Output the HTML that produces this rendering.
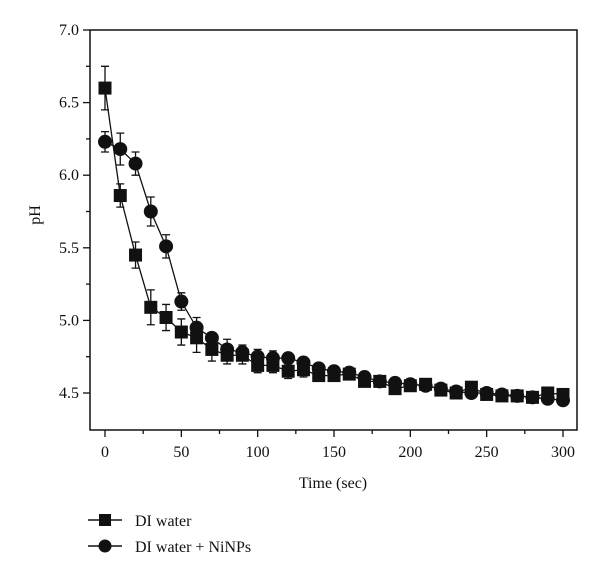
<!DOCTYPE html>
<html><head><meta charset="utf-8"><style>
html,body{margin:0;padding:0;background:#fff;}
svg text{font-family:"Liberation Serif",serif;fill:#111;}
</style></head><body>
<svg id="chart" width="600" height="574" xmlns="http://www.w3.org/2000/svg">
<rect x="90" y="30" width="487" height="400" fill="none" stroke="#111" stroke-width="1.5"/>
<g id="axes"></g>
<g id="series"></g>
<text x="333" y="488" font-size="16" text-anchor="middle">Time (sec)</text>
<text x="40" y="215" font-size="16" text-anchor="middle" transform="rotate(-90 40 215)">pH</text>
<g>
 <g>
  <line x1="88" y1="520" x2="122" y2="520" stroke="#111" stroke-width="1.5"/>
  <rect x="99" y="514" width="12" height="12" fill="#111"/>
  <text x="135" y="526" font-size="16">DI water</text>
 </g>
 <g>
  <line x1="88" y1="546" x2="122" y2="546" stroke="#111" stroke-width="1.5"/>
  <circle cx="105" cy="546" r="6.5" fill="#111"/>
  <text x="135" y="552" font-size="16">DI water + NiNPs</text>
 </g>
</g>
</svg>
<script>
const times=[0,10,20,30,40,50,60,70,80,90,100,110,120,130,140,150,160,170,180,190,200,210,220,230,240,250,260,270,280,290,300];
const diWater=[6.6,5.86,5.45,5.09,5.02,4.92,4.88,4.8,4.76,4.76,4.69,4.69,4.65,4.66,4.62,4.62,4.63,4.58,4.58,4.53,4.55,4.56,4.52,4.5,4.54,4.49,4.48,4.48,4.47,4.5,4.49];
const diWaterErr=[0.15,0.08,0.09,0.12,0.09,0.09,0.1,0.08,0.06,0.06,0.05,0.05,0.05,0.05,0,0,0,0,0,0,0,0,0,0,0,0,0,0,0,0,0];
const niNPs=[6.23,6.18,6.08,5.75,5.51,5.13,4.95,4.88,4.8,4.78,4.75,4.74,4.74,4.71,4.67,4.65,4.64,4.61,4.58,4.57,4.56,4.55,4.53,4.51,4.5,4.5,4.49,4.48,4.47,4.46,4.45];
const niNPsErr=[0.07,0.11,0.08,0.1,0.08,0.06,0.07,0,0.07,0.05,0.05,0.05,0,0,0,0,0,0,0,0,0,0,0,0,0,0,0,0,0,0,0];
const xTicks=[0,50,100,150,200,250,300];
const yTicks=[4.5,5.0,5.5,6.0,6.5,7.0];
const NS="http://www.w3.org/2000/svg";
const X=v=>105+v*(563-105)/300;
const Y=v=>30+(7.0-v)*145.2;
function mk(tag,attrs,parent){const e=document.createElementNS(NS,tag);for(const k in attrs)e.setAttribute(k,attrs[k]);parent.appendChild(e);return e;}
const axes=document.getElementById('axes');
for(let v=0;v<=300;v+=25){
 const t=mk('line',{x1:X(v),x2:X(v),y1:430,y2:v%50===0?437:434,stroke:'#111','stroke-width':1.3},axes);
 
 
}
xTicks.forEach(v=>{
 const t=mk('text',{x:X(v),y:457,'font-size':16,'text-anchor':'middle'},axes);t.textContent=String(v);
 
 
});
for(let v=4.5;v<=7.001;v+=0.25){
 const major=Math.abs(v*2-Math.round(v*2))<1e-6;
 const t=mk('line',{x1:major?83:86,x2:90,y1:Y(v),y2:Y(v),stroke:'#111','stroke-width':1.3},axes);
 
 
}
yTicks.forEach(v=>{
 const t=mk('text',{x:79,y:Y(v)+5,'font-size':16,'text-anchor':'end'},axes);t.textContent=v.toFixed(1);
 
 
});
const ser=document.getElementById('series');
function draw(vals,errs,shape,name){
 const g=mk('g',{},ser);
 
 
 const pl=mk('polyline',{points:times.map((t,i)=>X(t)+','+Y(vals[i])).join(' '),fill:'none',stroke:'#111','stroke-width':1.3},g);
 
 
 times.forEach((t,i)=>{
  const cx=X(t),cy=Y(vals[i]),e=errs[i];
  if(e>0){
   const eb=mk('path',{d:`M${cx},${Y(vals[i]+e)}V${Y(vals[i]-e)}M${cx-4},${Y(vals[i]+e)}H${cx+4}M${cx-4},${Y(vals[i]-e)}H${cx+4}`,stroke:'#111','stroke-width':1.3,fill:'none'},g);
   
   
  }
  let m;
  if(shape==='sq') m=mk('rect',{x:cx-6.5,y:cy-6.5,width:13,height:13,fill:'#111'},g);
  else m=mk('circle',{cx:cx,cy:cy,r:7,fill:'#111'},g);
  
  
 });
}
draw(diWater,diWaterErr,'sq','series-di-water');
draw(niNPs,niNPsErr,'ci','series-di-water-ninps');
</script>
</body></html>
